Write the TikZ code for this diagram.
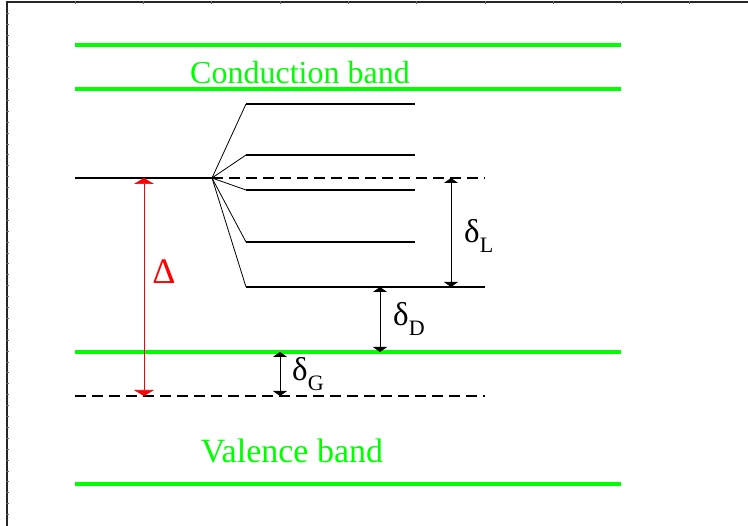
\documentclass[tikz,border=0pt]{standalone}
\usepackage{fontspec}
\setmainfont{Liberation Serif}
\usetikzlibrary{arrows.meta}
\definecolor{bandgreen}{RGB}{0,255,0}
\begin{document}
\begin{tikzpicture}[x=1pt,y=-1pt,
  band/.style={draw=bandgreen,line width=4pt},
  lev/.style={draw=black,line width=1.6pt},
  sub/.style={draw=black,line width=1.1pt},
  fan/.style={draw=black,line width=0.8pt},
  dashlev/.style={draw=black,line width=1.6pt,dash pattern=on 11pt off 6pt},
  dimarrow/.style={draw=black,line width=0.8pt,{Triangle[width=14pt,length=5pt]}-{Triangle[width=14pt,length=5pt]}},
  redarrow/.style={draw=red,line width=0.7pt,{Triangle[width=20pt,length=6pt]}-{Triangle[width=20pt,length=6pt]}},
  bandlabel/.style={text=bandgreen,inner sep=0pt},
  dlabel/.style={font=\fontsize{33}{36}\selectfont,inner sep=0pt,anchor=west},
  frameline/.style={draw=black!85,line width=1.2pt}]
\useasboundingbox (0,0) rectangle (748,526);
% frame
\draw[frameline] (7,526) -- (7,2) -- (748,2);
\foreach \i in {0,...,9}
  \draw[black!60,line width=0.5pt] ({75+68.3*\i},1) -- ({75+68.3*\i},4);
\foreach \i in {0,...,46}
  \draw[black!60,line width=0.5pt] (6,{13+10.9*\i}) -- (9,{13+10.9*\i});
% coordinates
\coordinate (cb1l) at (75,45);  \coordinate (cb1r) at (621,45);
\coordinate (cb2l) at (75,89);  \coordinate (cb2r) at (621,89);
\coordinate (vb1l) at (75,352); \coordinate (vb1r) at (621,352);
\coordinate (vb2l) at (75,484); \coordinate (vb2r) at (621,484);
\coordinate (lvl) at (75,178);  \coordinate (fanpt) at (212,178); \coordinate (lvr) at (485,178);
\coordinate (dgl) at (75,396);  \coordinate (dgr) at (485,396);
\coordinate (s1l) at (246,104); \coordinate (s1r) at (415,104);
\coordinate (s2l) at (246,155); \coordinate (s2r) at (415,155);
\coordinate (s3l) at (246,190); \coordinate (s3r) at (415,190);
\coordinate (s4l) at (246,242); \coordinate (s4r) at (415,242);
\coordinate (s5l) at (246,287); \coordinate (s5r) at (485,287);
% bands
\draw[band] (cb1l) -- (cb1r);
\draw[band] (cb2l) -- (cb2r);
\draw[band] (vb1l) -- (vb1r);
\draw[band] (vb2l) -- (vb2r);
\node[bandlabel,font=\fontsize{32}{36}\selectfont] (cblabel) at (300,73) {Conduction band};
\node[bandlabel,font=\fontsize{34}{38}\selectfont] (vblabel) at (292,451) {Valence band};
% level
\draw[lev] (lvl) -- (fanpt);
\draw[dashlev] (fanpt) -- (lvr);
\draw[dashlev] (dgl) -- (dgr);
% fan
\foreach \s in {s1l,s2l,s3l,s4l,s5l} \draw[fan] (fanpt) -- (\s);
\draw[sub] (s1l) -- (s1r);
\draw[sub] (s2l) -- (s2r);
\draw[sub] (s3l) -- (s3r);
\draw[sub] (s4l) -- (s4r);
\draw[lev] (s5l) -- (s5r);
% arrows
\coordinate (dla) at (451,178); \coordinate (dlb) at (451,287);
\coordinate (dda) at (380,287); \coordinate (ddb) at (380,352);
\coordinate (dga) at (280,352); \coordinate (dgb) at (280,396);
\coordinate (dra) at (144,178); \coordinate (drb) at (144,396);
\draw[redarrow] (dra) -- (drb);
\draw[dimarrow] (dla) -- (dlb);
\draw[dimarrow] (dda) -- (ddb);
\draw[dimarrow] (dga) -- (dgb);
\node[font=\fontsize{36}{40}\selectfont,text=red,inner sep=0pt] (deltalabel) at (164,272) {Δ};
\node[dlabel] (dL) at (464,236) {δ\raisebox{-10pt}{\fontsize{22}{24}\selectfont L}};
\node[dlabel] (dD) at (393,319) {δ\raisebox{-10pt}{\fontsize{22}{24}\selectfont D}};
\node[dlabel] (dG) at (292,374) {δ\raisebox{-10pt}{\fontsize{22}{24}\selectfont G}};
\end{tikzpicture}
\end{document}
